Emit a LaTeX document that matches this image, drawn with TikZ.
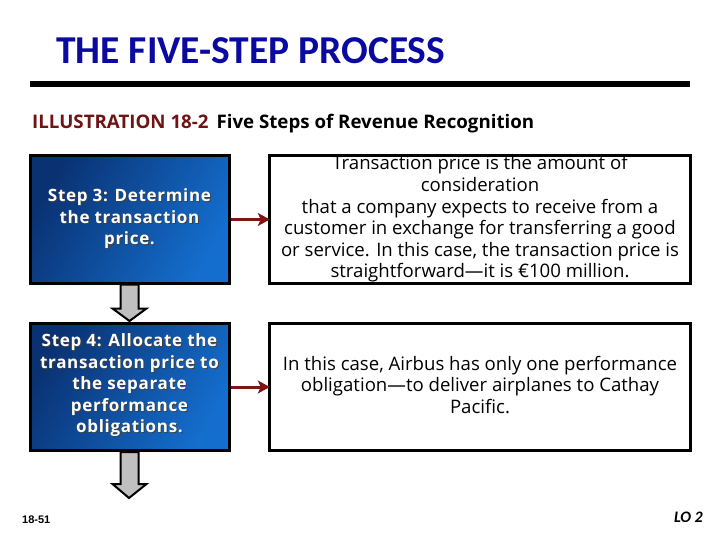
\documentclass[tikz,border=0pt]{standalone}
\usepackage{fontspec}
\setmainfont{Carlito}
\newfontfamily\arialf{Liberation Sans}
\newfontfamily\openf{Open Sans}
\newfontfamily\openspaced[LetterSpace=4]{Open Sans}
\usetikzlibrary{arrows.meta,calc}
\definecolor{titleblue}{RGB}{10,10,160}
\definecolor{illred}{RGB}{110,20,20}
\definecolor{arrred}{RGB}{130,20,20}
\definecolor{boxdark}{RGB}{10,50,115}
\definecolor{boxlight}{RGB}{20,110,205}
\definecolor{flowgray}{RGB}{192,192,192}
\tikzset{
  stepbox/.style={draw=black, line width=3pt, minimum width=199pt, minimum height=127pt,
    inner sep=0pt, shading=axis, left color=boxdark, right color=boxlight, shading angle=60},
  steptext/.style={text=white, font=\openspaced\fontsize{17}{21.5}\selectfont\bfseries, align=center, inner sep=0pt},
  stepshadow/.style={text=black!75, font=\openspaced\fontsize{17}{21.5}\selectfont\bfseries, align=center, inner sep=0pt},
  descbox/.style={fill=white, minimum width=420pt, minimum height=127pt, inner sep=0pt},
  descborder/.style={draw=black, line width=3pt},
  desctext/.style={font=\openf\fontsize{18.6}{21.6}\selectfont, align=center, inner sep=0pt},
  redarrow/.style={draw=arrred, line width=3pt, -{Stealth[length=12pt,width=13pt,inset=3pt]}},
  grayarrow/.style={fill=flowgray, draw=black, line width=2pt, line join=miter}
}
\begin{document}
\begin{tikzpicture}[x=1pt,y=-1pt]
\useasboundingbox (0,0) rectangle (720,540);
% title
\node[anchor=west, text=titleblue, font=\fontsize{39.5}{42}\selectfont\bfseries, inner sep=0pt] (title) at (56,51) {THE FIVE-STEP PROCESS};
\fill[black] (30,81) rectangle (690,87);
\node[anchor=west, font=\openf\fontsize{18.7}{20}\selectfont\bfseries, inner sep=0pt] (ill) at (32,124) {\textcolor{illred}{ILLUSTRATION 18-2}\hspace{8pt}Five Steps of Revenue Recognition};
% step boxes
\node[stepbox] (s3) at (129.5,219.5) {};
\node[stepshadow] at (130.5,220) {Step 3: Determine\\the transaction\\price.};
\node[steptext] (t3) at (129.5,219) {Step 3: Determine\\the transaction\\price.};
\node[stepbox] (s4) at (129.5,387) {};
\node[stepshadow] at (130.5,386.5) {Step 4: Allocate the\\transaction price to\\the separate\\performance\\obligations.};
\node[steptext] (t4) at (129.5,385.5) {Step 4: Allocate the\\transaction price to\\the separate\\performance\\obligations.};
% description boxes
\node[descbox] (d3) at (480,219.5) {};
\node[desctext] (e3) at (480,219) {Transaction price is the amount of\\consideration\\that a company expects to receive from a\\customer in exchange for transferring a good\\or service. In this case, the transaction price is\\straightforward—it is €100 million.};
\draw[descborder] (d3.north west) rectangle (d3.south east);
\node[descbox] (d4) at (480,387) {};
\node[desctext] (e4) at (480,385) {In this case, Airbus has only one performance\\obligation—to deliver airplanes to Cathay\\Pacific.};
\draw[descborder] (d4.north west) rectangle (d4.south east);
% red arrows
\draw[redarrow] (s3.east) -- (d3.west);
\draw[redarrow] (s4.east) -- (d4.west);
% gray flow arrows
\coordinate (end4) at (129,498);
\draw[grayarrow] ($(s3.south)+(-9,0)$) -- ($(s3.south)+(9,0)$) -- ($(s3.south)+(9,24)$) -- ($(s3.south)+(17,24)$)
  -- ($(s4.north)+(0,-1)$) -- ($(s3.south)+(-17,24)$) -- ($(s3.south)+(-9,24)$) -- cycle;
\draw[grayarrow] ($(s4.south)+(-9,0)$) -- ($(s4.south)+(9,0)$) -- ($(s4.south)+(9,32)$) -- ($(s4.south)+(17,32)$)
  -- (end4) -- ($(s4.south)+(-17,32)$) -- ($(s4.south)+(-9,32)$) -- cycle;
% footer
\node[anchor=west, font=\arialf\fontsize{11}{12}\selectfont\bfseries, inner sep=0pt] (pg) at (22,520) {18-51};
\node[anchor=east, font=\fontsize{16}{18}\selectfont\bfseries\itshape, inner sep=0pt] (lo) at (703,517) {LO 2};
\end{tikzpicture}
\end{document}
